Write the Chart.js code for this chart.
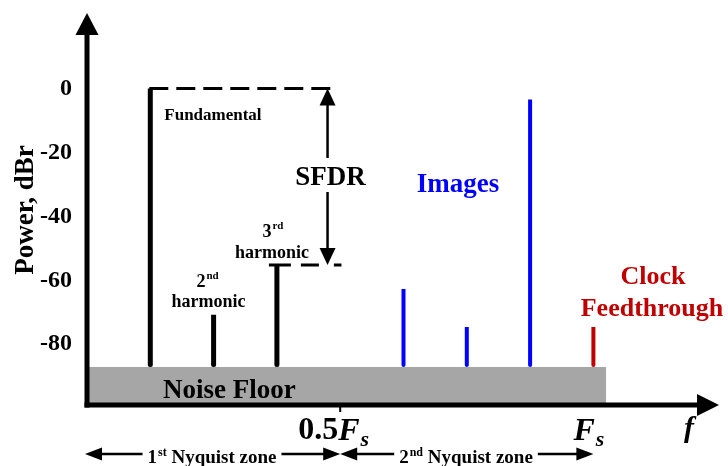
<!DOCTYPE html>
<html><head><meta charset="utf-8">
<script src="https://cdn.jsdelivr.net/npm/chart.js@4"></script>
<style>html,body{margin:0;padding:0;background:#fff;}#wrap{width:728px;height:466px;position:relative;}</style>
</head><body><div id="wrap"><canvas id="c"></canvas></div>
<script>
// ---- data ----
const harmonicFreq = [1, 2, 3];
const harmonicDb = [0, -70.8, -55.2];
const imageFreq = [5, 6, 7];
const imageDb = [-62.7, -74.6, -3.4];
const clockFreq = [8];
const clockDb = [-74.6];
const noiseFloorDb = -87.1;
const noiseFloorEnd = 8.2;
const yTicks = [0, -20, -40, -60, -80];
const xTickFreq = [4, 8];
const xTickPrefix = ['0.5', ''];
const xTickMark = [true, false];
const yMin = -99, yMax = 23, xMin = 0, xMax = 10;

const SERIF = "'Liberation Serif', 'Times New Roman', serif";
const F = (size, style) => (style || 'bold') + ' ' + size + 'px ' + SERIF;

function stems(freq, db) { return freq.map((f, i) => ({ x: f, y: [noiseFloorDb, db[i]] })); }

function supText(ctx, base, sup, x, y, bs, ss, rise, align) {
  ctx.font = F(bs); const w1 = ctx.measureText(base).width;
  ctx.font = F(ss); const w2 = ctx.measureText(sup).width;
  const total = w1 + w2 + 1;
  let sx = align === 'center' ? x - total / 2 : x;
  ctx.textAlign = 'left'; ctx.textBaseline = 'alphabetic';
  ctx.font = F(bs); ctx.fillText(base, sx, y);
  ctx.font = F(ss); ctx.fillText(sup, sx + w1 + 1, y - rise);
  return { left: sx, right: sx + total };
}
function head(ctx, tx, ty, dx, dy, len, hw) {
  const bx = tx - dx * len, by = ty - dy * len;
  ctx.beginPath();
  ctx.moveTo(tx, ty);
  ctx.lineTo(bx - dy * hw, by + dx * hw);
  ctx.lineTo(bx + dy * hw, by - dx * hw);
  ctx.closePath(); ctx.fill();
}

const spectrumPlugin = {
  id: 'spectrum',
  beforeDatasetsDraw(chart) {
    const ctx = chart.ctx, xs = chart.scales.x, ys = chart.scales.y;
    const px = v => xs.getPixelForValue(v), py = v => ys.getPixelForValue(v);
    ctx.save();
    ctx.strokeStyle = '#000'; ctx.lineWidth = 3;
    ctx.setLineDash([19, 8]);
    ctx.beginPath(); ctx.moveTo(px(harmonicFreq[0]) - 1, py(harmonicDb[0])); ctx.lineTo(px(3.9), py(harmonicDb[0])); ctx.stroke();
    ctx.setLineDash([22, 10, 18, 15]);
    ctx.beginPath(); ctx.moveTo(px(harmonicFreq[2]) - 8, py(harmonicDb[2])); ctx.lineTo(px(4.02), py(harmonicDb[2])); ctx.stroke();
    ctx.setLineDash([]);
    ctx.restore();
  },
  afterDatasetsDraw(chart) {
    const ctx = chart.ctx, xs = chart.scales.x, ys = chart.scales.y;
    const px = v => xs.getPixelForValue(v), py = v => ys.getPixelForValue(v);
    const x0 = px(xMin), yb = py(yMin);
    ctx.save();
    // noise floor
    const nfTop = py(noiseFloorDb);
    ctx.fillStyle = '#a6a6a6';
    ctx.fillRect(x0, nfTop, px(noiseFloorEnd) - x0, yb - nfTop);
    ctx.fillStyle = '#000';
    ctx.font = F(27); ctx.textAlign = 'center'; ctx.textBaseline = 'alphabetic';
    ctx.fillText('Noise Floor', px(2.25), yb - 7);

    // axes
    ctx.strokeStyle = '#000'; ctx.fillStyle = '#000'; ctx.lineWidth = 5;
    ctx.beginPath(); ctx.moveTo(x0, yb + 2.5); ctx.lineTo(x0, 30); ctx.stroke();
    head(ctx, x0, chart.chartArea.top - 2, 0, -1, 22, 11.5);
    ctx.beginPath(); ctx.moveTo(x0 - 2.5, yb); ctx.lineTo(702, yb); ctx.stroke();
    head(ctx, chart.chartArea.right - 1, yb, 1, 0, 22, 11);
    xTickFreq.forEach((f, i) => { if (xTickMark[i]) ctx.fillRect(px(f) - 1, yb, 2, 7); });

    // x tick labels
    ctx.textAlign = 'left'; ctx.textBaseline = 'alphabetic';
    xTickFreq.forEach((f, i) => {
      const pre = xTickPrefix[i];
      ctx.font = F(32);
      const wp = ctx.measureText(pre).width;
      ctx.font = F(32, 'italic bold');
      const wf = ctx.measureText('F').width;
      let sx = pre ? px(f) - wp - 2 : px(f) - 20;
      ctx.font = F(32); ctx.fillText(pre, sx, 439);
      ctx.font = F(32, 'italic bold'); ctx.fillText('F', sx + wp, 440);
      ctx.font = F(22, 'italic bold'); ctx.fillText('s', sx + wp + wf + 1, 446);
    });
    ctx.font = F(30, 'italic bold'); ctx.fillText('f', 684, 437);

    // Nyquist zone arrows
    const ny = 454;
    ctx.lineWidth = 2.5;
    const zone = (a, b, num, sup, cx) => {
      ctx.beginPath(); ctx.moveTo(a + 10, ny); ctx.lineTo(b - 10, ny); ctx.stroke();
      head(ctx, a, ny, -1, 0, 17, 6.5);
      head(ctx, b, ny, 1, 0, 17, 6.5);
      ctx.font = F(19); const w1 = ctx.measureText(num).width;
      ctx.font = F(12); const w2 = ctx.measureText(sup).width;
      ctx.font = F(19); const w3 = ctx.measureText(' Nyquist zone').width;
      const tw = w1 + w2 + w3 + 1;
      const sx = cx - tw / 2;
      ctx.fillStyle = '#fff'; ctx.fillRect(sx - 5, ny - 12, tw + 10, 24);
      ctx.fillStyle = '#000';
      ctx.font = F(19); ctx.fillText(num, sx, 463);
      ctx.font = F(12); ctx.fillText(sup, sx + w1 + 1, 456);
      ctx.font = F(19); ctx.fillText(' Nyquist zone', sx + w1 + w2 + 1, 463);
    };
    zone(px(0) - 2, px(4), '1', 'st', 212);
    zone(px(4), px(8), '2', 'nd', 466);

    // SFDR arrow
    const sx = px(3.8), yTop = py(harmonicDb[0]), yBot = py(harmonicDb[2]);
    ctx.lineWidth = 2.5;
    ctx.beginPath(); ctx.moveTo(sx, yTop + 10); ctx.lineTo(sx, 158); ctx.moveTo(sx, 192); ctx.lineTo(sx, yBot - 10); ctx.stroke();
    head(ctx, sx, yTop, 0, -1, 17, 8);
    head(ctx, sx, yBot, 0, 1, 17, 8);
    ctx.font = F(27); ctx.textAlign = 'center';
    ctx.fillText('SFDR', sx + 3, 185);

    // labels
    ctx.font = F(17); ctx.textAlign = 'left';
    ctx.fillText('Fundamental', px(harmonicFreq[0]) + 14, 120);
    supText(ctx, '3', 'rd', px(harmonicFreq[2]) - 4, 237, 18, 11, 8, 'center');
    ctx.font = F(18); ctx.textAlign = 'center'; ctx.fillText('harmonic', px(harmonicFreq[2]) - 5, 258);
    supText(ctx, '2', 'nd', px(harmonicFreq[1]) - 6, 287, 18, 11, 8, 'center');
    ctx.font = F(18); ctx.textAlign = 'center'; ctx.fillText('harmonic', px(harmonicFreq[1]) - 5, 307);

    ctx.fillStyle = '#0000ff'; ctx.font = F(27); ctx.textAlign = 'center';
    ctx.fillText('Images', 458, 192);
    ctx.fillStyle = '#c00000'; ctx.font = F(26);
    ctx.fillText('Clock', 653, 284);
    ctx.fillText('Feedthrough', 652, 316);

    // y title
    ctx.fillStyle = '#000'; ctx.font = F(27);
    ctx.translate(33, 210); ctx.rotate(-Math.PI / 2);
    ctx.textAlign = 'center'; ctx.textBaseline = 'alphabetic';
    ctx.fillText('Power, dBr', 0, 0);
    ctx.restore();
  }
};

new Chart(document.getElementById('c'), {
  type: 'bar',
  data: {
    datasets: [
      { data: stems(harmonicFreq, harmonicDb), backgroundColor: '#000', maxBarThickness: 5 },
      { data: stems(imageFreq, imageDb), backgroundColor: '#0000ff', maxBarThickness: 4 },
      { data: stems(clockFreq, clockDb), backgroundColor: '#c00000', maxBarThickness: 4 }
    ]
  },
  options: {
    responsive: true, maintainAspectRatio: false, animation: false,
    datasets: { bar: { grouped: false, borderRadius: 2, borderSkipped: 'start' } },
    layout: { padding: { left: 0, top: 15, right: 8, bottom: 61 } },
    plugins: { legend: { display: false }, tooltip: { enabled: false }, title: { display: false } },
    scales: {
      x: { type: 'linear', min: xMin, max: xMax, offset: false, display: false },
      y: {
        min: yMin, max: yMax,
        grid: { display: false }, border: { display: false },
        afterBuildTicks: s => { s.ticks = yTicks.map(v => ({ value: v })); },
        afterFit: s => { s.width = 87; s.paddingTop = 0; s.paddingBottom = 0; s.paddingLeft = 0; s.paddingRight = 0; },
        ticks: { color: '#000', padding: 7, font: { family: SERIF, size: 24, weight: 'bold' } }
      }
    }
  },
  plugins: [spectrumPlugin]
});
</script></body></html>
